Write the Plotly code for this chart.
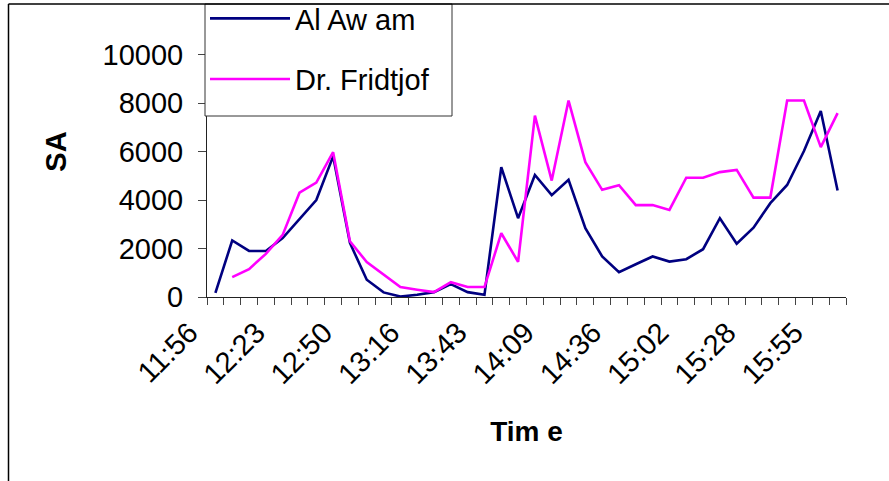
import plotly.graph_objects as go

# ---- data ----
times = ["11:56", "12:03", "12:10", "12:16", "12:23", "12:30", "12:36", "12:43",
         "12:50", "12:56", "13:03", "13:09", "13:16", "13:23", "13:29", "13:36",
         "13:43", "13:49", "13:56", "14:03", "14:09", "14:16", "14:22", "14:29",
         "14:36", "14:42", "14:49", "14:55", "15:02", "15:09", "15:15", "15:22",
         "15:28", "15:35", "15:42", "15:48", "15:55", "16:01"]
label_times = ["11:56", "12:23", "12:50", "13:16", "13:43", "14:09", "14:36",
               "15:02", "15:28", "15:55"]
al_awam = [170, 2330, 1900, 1900, 2430, 3200, 4000, 5800, 2230, 710, 190, 20,
           90, 200, 530, 200, 90, 5350, 3250, 5030, 4200, 4830, 2840, 1670,
           1020, 1350, 1670, 1460, 1560, 1970, 3250, 2200, 2860, 3870, 4620,
           6020, 7670, 4390]
nansen = [None, 820, 1150, 1780, 2560, 4300, 4720, 5970, 2300, 1440, 940, 410,
          300, 200, 610, 410, 410, 2630, 1450, 7480, 4800, 8100, 5560, 4420,
          4610, 3790, 3790, 3590, 4920, 4920, 5150, 5240, 4100, 4100, 8100,
          8100, 6180, 7580]
y_ticks = [0, 2000, 4000, 6000, 8000, 10000]
y_labels = ["0", "2000", "4000", "6000", "8000", "10000"]

# ---- layout geometry ----
W, H = 889, 481
ML, MR, MT, MB = 207, 43, 6, 184
PW, PH = W - ML - MR, H - MT - MB


def xp(px):
    return (px - ML) / PW


def yp(py):
    return (H - MB - py) / PH


FONT = "Liberation Sans, Arial, sans-serif"
FS = 29

fig = go.Figure()
fig.add_trace(go.Scatter(x=times, y=al_awam, mode="lines", name="Al Aw am",
                         legendgroup="a",
                         line=dict(color="#000080", width=2.6)))
fig.add_trace(go.Scatter(x=times, y=nansen, mode="lines", name="Dr. Fridtjof",
                         legendgroup="b",
                         line=dict(color="#FF00FF", width=2.6)))

ticktext = [t if t in label_times else "" for t in times]

fig.update_layout(
    width=W, height=H,
    margin=dict(l=ML, r=MR, t=MT, b=MB, pad=0, autoexpand=False),
    paper_bgcolor="white", plot_bgcolor="white",
    font=dict(family=FONT, size=FS, color="black"),
    showlegend=True,
    legend=dict(x=xp(205), y=yp(-7), xanchor="left", yanchor="top",
                bgcolor="rgba(0,0,0,0)", borderwidth=0,
                font=dict(family=FONT, size=FS, color="black"),
                tracegroupgap=20, itemwidth=80, traceorder="grouped"),
    xaxis=dict(type="category", tickmode="array", tickvals=times,
               ticktext=ticktext, tickson="boundaries", ticks="outside",
               ticklen=7, tickcolor="#444444", tickwidth=1,
               tickangle=-45, showline=True, linecolor="#222222",
               linewidth=1, showgrid=False, zeroline=False,
               range=[-0.5, len(times) - 0.5],
               tickfont=dict(family=FONT, size=FS),
               ticklabelstandoff=6, ticklabelshift=-26,
               title=dict(text="<b>Tim e</b>", standoff=32,
                          font=dict(family=FONT, size=28))),
    yaxis=dict(range=[0, 12000], tickmode="array", tickvals=y_ticks,
               ticktext=y_labels,
               ticks="outside", ticklen=8, tickcolor="#444444",
               showline=True, linecolor="#222222", linewidth=1,
               showgrid=False, zeroline=False,
               tickfont=dict(family=FONT, size=FS),
               ticklabelstandoff=9,
               title=dict(text="<b>SA</b>", standoff=27,
                          font=dict(family=FONT, size=29))),
    shapes=[
        # legend frame (white box, drawn beneath the legend entries)
        dict(type="rect", xref="paper", yref="paper", layer="above",
             x0=xp(205), x1=xp(452), y0=yp(116), y1=yp(4),
             fillcolor="white", line=dict(color="#333333", width=1)),
        # chart-area border (visible top and left edges)
        dict(type="line", xref="paper", yref="paper",
             x0=xp(8.5), x1=xp(900), y0=yp(4), y1=yp(4),
             line=dict(color="black", width=1.5)),
        dict(type="line", xref="paper", yref="paper",
             x0=xp(8.5), x1=xp(8.5), y0=yp(4), y1=yp(490),
             line=dict(color="black", width=1.5)),
    ],
)

fig.write_html("out.html")
